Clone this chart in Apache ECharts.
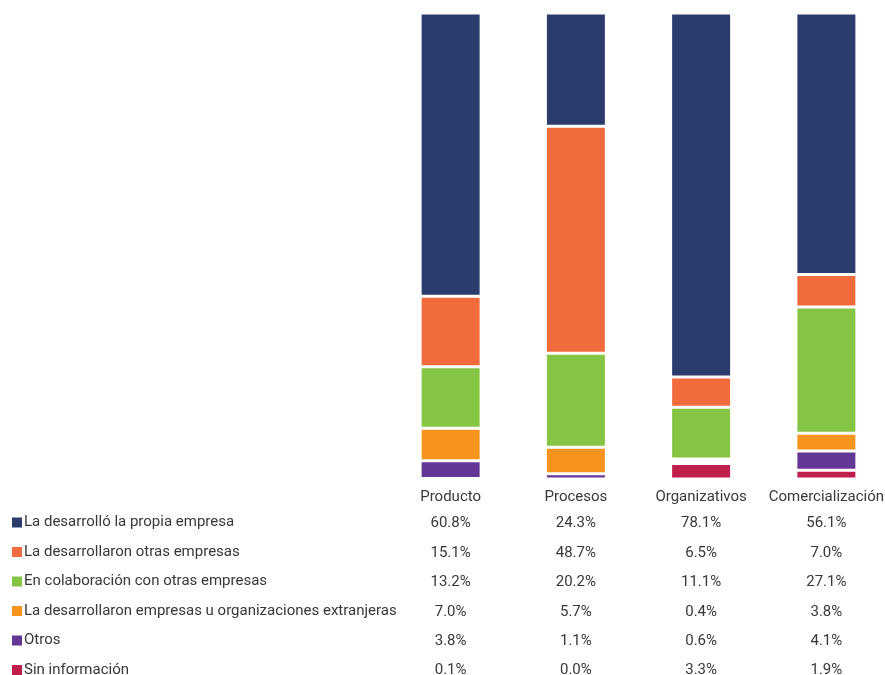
<!DOCTYPE html>
<html><head><meta charset="utf-8">
<script src="https://cdn.jsdelivr.net/npm/echarts@6/dist/echarts.min.js"></script>
<style>html,body{margin:0;padding:0;background:#fff}#c{width:885px;height:675px}</style>
</head><body><div id="c"></div>
<script>
const categories = ['Producto', 'Procesos', 'Organizativos', 'Comercialización'];
const seriesNames = [
  'La desarrolló la propia empresa',
  'La desarrollaron otras empresas',
  'En colaboración con otras empresas',
  'La desarrollaron empresas u organizaciones extranjeras',
  'Otros',
  'Sin información'
];
const propia = [60.8, 24.3, 78.1, 56.1];
const otras = [15.1, 48.7, 6.5, 7.0];
const colaboracion = [13.2, 20.2, 11.1, 27.1];
const extranjeras = [7.0, 5.7, 0.4, 3.8];
const otros = [3.8, 1.1, 0.6, 4.1];
const sinInfo = [0.1, 0.0, 3.3, 1.9];
const values = [propia, otras, colaboracion, extranjeras, otros, sinInfo];
const colors = ['#2a3b6c', '#f26b3c', '#86c543', '#f7941d', '#643695', '#c01f4b'];

const font = 'Roboto, "Noto Sans", sans-serif';
const textColor = '#383838';
const fs = 15;
const rowOffsets = [26, 56, 85, 115, 144, 173];

const xAxes = [{
  type: 'category', data: categories, gridIndex: 0, position: 'bottom',
  axisLine: {show: false}, axisTick: {show: false},
  axisLabel: {interval: 0, margin: 11, fontSize: fs, color: textColor, fontFamily: font}
}];
values.forEach((arr, k) => {
  xAxes.push({
    type: 'category', data: categories, gridIndex: 0, position: 'bottom', offset: rowOffsets[k],
    axisLine: {show: false}, axisTick: {show: false}, splitLine: {show: false},
    axisLabel: {interval: 0, margin: 11, fontSize: fs, color: textColor, fontFamily: font,
      formatter: (v, i) => arr[i].toFixed(1) + '%'}
  });
});

// stack from bottom (last category) to top (first)
const order = [5, 4, 3, 2, 1, 0];

const chart = echarts.init(document.getElementById('c'));
chart.setOption({
  animation: false,
  grid: {left: 388, width: 501, top: 13, height: 466, containLabel: false, outerBoundsMode: 'none'},
  legend: {
    orient: 'vertical', left: 12, top: 514, height: 200, padding: 0, itemGap: 12.5,
    itemWidth: 10, itemHeight: 10, icon: 'rect', selectedMode: false,
    itemStyle: {borderWidth: 0},
    data: seriesNames,
    textStyle: {fontSize: fs, color: textColor, fontFamily: font, lineHeight: 17, padding: [0, 0, 0, -3]}
  },
  xAxis: xAxes,
  yAxis: {type: 'value', min: 0, max: 100, show: false},
  series: order.map(k => ({
    name: seriesNames[k], type: 'bar', stack: 'total', barWidth: 61,
    xAxisIndex: 0, color: colors[k],
    itemStyle: {color: colors[k], borderColor: '#fff', borderWidth: 1.5},
    data: values[k]
  }))
});
</script></body></html>
